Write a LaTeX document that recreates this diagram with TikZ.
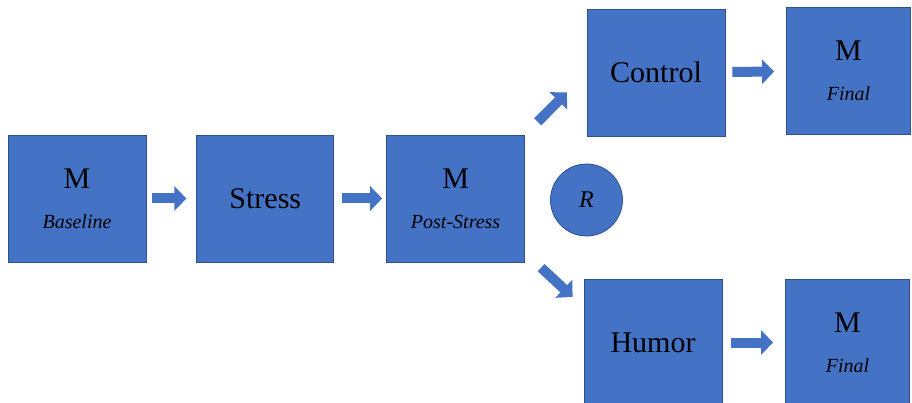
\documentclass[tikz,border=0pt]{standalone}
\usepackage{fontspec}
\setmainfont{Liberation Serif}
\usetikzlibrary{arrows.meta,positioning,shapes.geometric}
\definecolor{boxblue}{RGB}{68,114,196}
\definecolor{boxedge}{RGB}{47,82,143}

\begin{document}
\begin{tikzpicture}[
  x=1pt, y=1pt,
  blk/.style={rectangle, draw=boxedge, fill=boxblue, line width=0.8pt, align=center, minimum width=138pt, minimum height=127pt, inner sep=0pt, font=\fontsize{30}{36}\selectfont},
  fin/.style={blk, minimum width=124pt},
  circ/.style={circle, draw=boxedge, fill=boxblue, line width=0.8pt, minimum size=72pt, inner sep=0pt, font=\fontsize{24}{28}\selectfont\itshape},
  arr/.style={boxblue, line width=10pt, -{Triangle[length=12pt,width=24pt]}}
]
\useasboundingbox (0,0) rectangle (912,402);
\node[blk] (base) at (77,203.5) {M\\[4pt]{\fontsize{20}{24}\selectfont\itshape Baseline}};
\node[blk, minimum width=137pt, right=50pt of base] (stress) {Stress};
\node[blk, right=52pt of stress] (post) {M\\[4pt]{\fontsize{20}{24}\selectfont\itshape Post-Stress}};
\node[blk] (ctrl) at (656,329.5) {Control};
\node[fin] (finA) at (848.5,331) {M\\[4pt]{\fontsize{20}{24}\selectfont\itshape Final}};
\node[blk] (humor) at (653,59.5) {Humor};
\node[fin] (finB) at (847.5,59.5) {M\\[4pt]{\fontsize{20}{24}\selectfont\itshape Final}};
\node[circ] (r) at (586.5,202) {R};

\draw[arr, shorten <=6pt, shorten >=10pt] (base) -- (stress);
\draw[arr, shorten <=8pt, shorten >=4pt] (stress) -- (post);
\draw[arr, shorten <=18pt, shorten >=28pt] (post.north east) -- (ctrl.west);
\draw[arr, shorten <=22pt, shorten >=15pt] (post.-38) -- (humor.153);
\draw[arr, shorten <=7pt, shorten >=12pt] (ctrl) -- (finA);
\draw[arr, shorten <=9pt, shorten >=12pt] (humor) -- (finB);
\end{tikzpicture}
\end{document}
